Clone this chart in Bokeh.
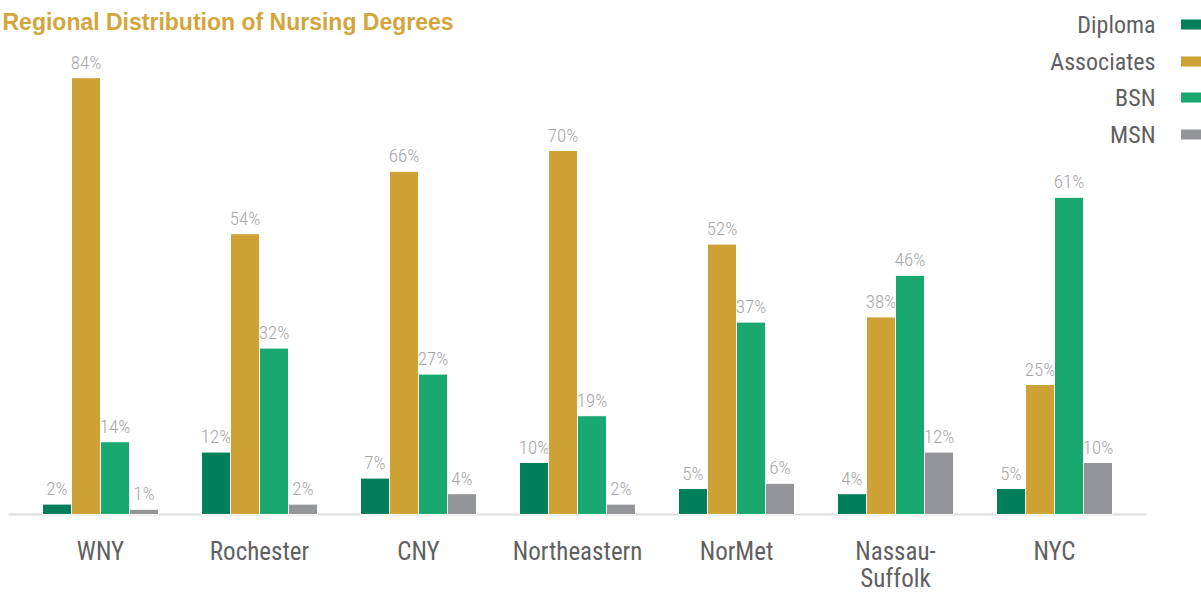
from bokeh.plotting import figure
from bokeh.models import Range1d, ColumnDataSource
from bokeh.core.properties import value
from bokeh.embed import file_html
from bokeh.resources import INLINE

# ---- data ----
title = "Regional Distribution of Nursing Degrees"
regions = ["WNY", "Rochester", "CNY", "Northeastern", "NorMet", "Nassau-\nSuffolk", "NYC"]
series = ["Diploma", "Associates", "BSN", "MSN"]
diploma = [2, 12, 7, 10, 5, 4, 5]
associates = [84, 54, 66, 70, 52, 38, 25]
bsn = [14, 32, 27, 19, 37, 46, 61]
msn = [1, 2, 4, 2, 6, 12, 10]
colors = ["#007F5A", "#CFA235", "#19A86F", "#939598"]

FONT = "'Roboto Condensed', 'DejaVu Sans Condensed', 'Liberation Sans Narrow', Roboto, sans-serif"
FONT_LIGHT = "'Roboto Condensed Light', 'Roboto Light', 'Roboto Condensed', Roboto, sans-serif"

# ---- layout (pixels in canvas) ----
W, H = 1201, 592
X0, XS = 100.0, 159.0        # canvas x of first category, px per category
Y0, YS = 514.0, 5.2          # canvas y of baseline, px per percent

def px2x(px):
    return (px - X0) / XS

def px2y(py):
    return (Y0 - py) / YS

p = figure(width=W, height=H, output_backend="svg", toolbar_location=None,
           x_range=Range1d(px2x(0), px2x(W)), y_range=Range1d(px2y(H), px2y(0)),
           min_border=0, min_border_left=0, min_border_right=0,
           min_border_top=0, min_border_bottom=0)
p.axis.visible = False
p.grid.visible = False
p.outline_line_color = None
p.background_fill_color = "white"
p.border_fill_color = "white"

# baseline
p.line(x=[px2x(8), px2x(1146)], y=[0, 0], line_color="#DCDDDE", line_width=2)

bw = 29.0 / XS
vals = [diploma, associates, bsn, msn]
for k, (name, v, c) in enumerate(zip(series, vals, colors)):
    xs = [i + (k - 1.5) * bw for i in range(len(regions))]
    src = ColumnDataSource(dict(x=xs, top=v, lab=[f"{t}%" for t in v]))
    p.vbar(x="x", top="top", bottom=0, width=bw, source=src,
           fill_color=c, line_color="white", line_width=1)
    p.text(x="x", y="top", text="lab", source=src, text_align="center",
           text_baseline="bottom", y_offset=-4,
           text_font=value(FONT_LIGHT), text_font_size="19px",
           text_color="#A6A6A8")

# category labels
p.text(x=list(range(len(regions))), y=[0] * len(regions), text=regions,
       text_align="center", text_baseline="top", y_offset=22,
       text_font=value(FONT), text_font_size="25px",
       text_color="#5F6062", text_line_height=0.95)

# legend (label right-aligned, swatch on the right)
row_y = [24, 61, 97, 134]
p.text(x=[px2x(1155)] * 4, y=[px2y(r) for r in row_y], text=series,
       text_align="right", text_baseline="middle",
       text_font=value(FONT), text_font_size="24px",
       text_color="#5F6062")
p.rect(x=[px2x(1191)] * 4, y=[px2y(r) for r in row_y], width=21, height=10,
       width_units="screen", height_units="screen", fill_color=colors,
       line_color=None)

# title
p.text(x=[px2x(2)], y=[px2y(21)], text=[title], text_align="left",
       text_baseline="alphabetic", text_font=value("Liberation Sans"),
       text_font_style="bold", text_font_size="23px", text_color="#D3A53A")

open("out.html", "w").write(file_html(p, INLINE))
